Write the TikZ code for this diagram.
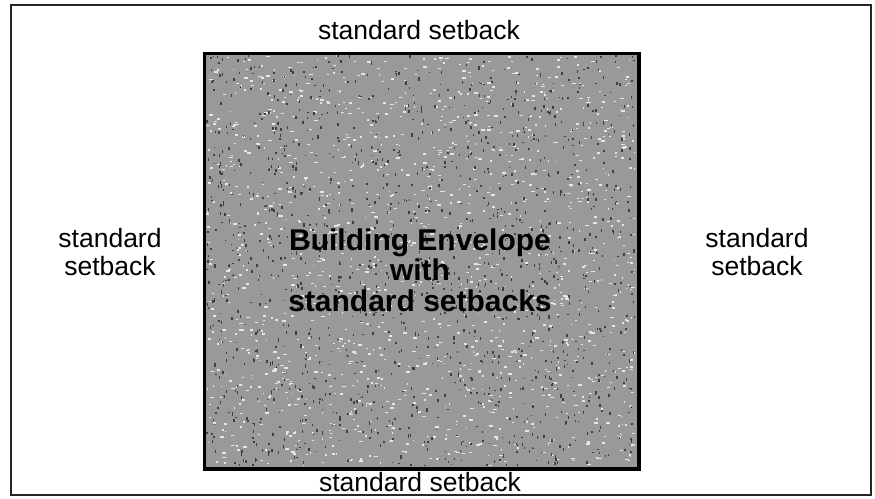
\documentclass[tikz,border=0pt]{standalone}
\usepackage{fontspec}
\setmainfont{Liberation Sans}
\begin{document}
\begin{tikzpicture}[x=1pt,y=-1pt,
  setbacklabel/.style={font=\fontsize{26.5}{28}\selectfont, align=center, text=black, inner sep=0pt},
  envlabel/.style={font=\fontsize{30}{30.5}\selectfont\bfseries, align=center, text=black, inner sep=0pt},
  outerlot/.style={draw=black!85, line width=1.3pt},
  envbox/.style={draw=black, line width=2.4pt, fill=black!40},
  speckwhite/.style={fill=white!90!black},
  speckdark/.style={fill=black!75}]
\useasboundingbox (0,0) rectangle (875,498);
\fill[white] (0,0) rectangle (875,498);
\draw[outerlot] (11,5) rectangle (871,495);
\node[envbox, minimum width=433pt, minimum height=414pt, anchor=north west] (env) at (204,53) {};
\begin{scope}
  \clip (206,55) rectangle (635,465);
  \pgfmathsetseed{42}
  \foreach \i in {1,...,1400} {
    \pgfmathsetmacro{\px}{206+429*rnd}
    \pgfmathsetmacro{\py}{55+410*rnd}
    \pgfmathsetmacro{\pw}{1+3*rnd}
    \fill[speckwhite] (\px,\py) rectangle ++(\pw,1.5);
  }
  \foreach \i in {1,...,1400} {
    \pgfmathsetmacro{\px}{206+429*rnd}
    \pgfmathsetmacro{\py}{55+410*rnd}
    \pgfmathsetmacro{\pw}{1+2.5*rnd}
    \fill[speckdark] (\px,\py) rectangle ++(1.5,\pw);
  }
\end{scope}
\draw[black, line width=2.4pt] (env.north west) rectangle (env.south east);
\node[envlabel] (envtext) at (420,270) {Building Envelope\\with\\standard setbacks};
\node[setbacklabel] (top) at (419,30) {standard setback};
\node[setbacklabel] (bottom) at (420,482) {standard setback};
\node[setbacklabel] (left) at (110,252) {standard\\setback};
\node[setbacklabel] (right) at (757,252) {standard\\setback};
\end{tikzpicture}
\end{document}
